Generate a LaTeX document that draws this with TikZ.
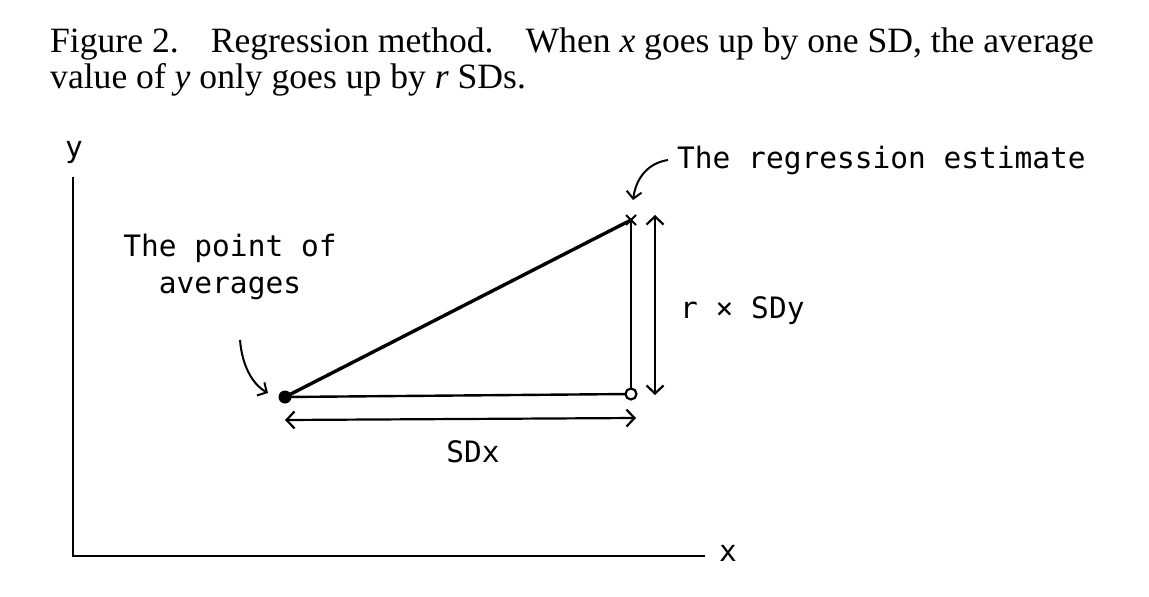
\documentclass[tikz,border=0pt]{standalone}
\usepackage{fontspec}
\setmainfont{Liberation Serif}
\newfontfamily\hand{DejaVu Sans Mono}
\usetikzlibrary{arrows.meta,calc}
\tikzset{
  title/.style={anchor=base west, inner sep=0pt, font=\fontsize{35.6}{36}\selectfont},
  handlbl/.style={inner sep=0pt, font=\hand\fontsize{29.5}{37}\selectfont, align=center},
  heavy/.style={line width=3.4pt, line cap=round},
  thinline/.style={line width=2.4pt},
  dimarrow/.style={line width=2.2pt, {Straight Barb[length=8pt,width=17pt,line width=2.2pt]}-{Straight Barb[length=8pt,width=17pt,line width=2.2pt]}},
  pointer/.style={line width=2pt, -{Straight Barb[length=7pt,width=15pt,line width=2pt]}},
}
\begin{document}
\begin{tikzpicture}[x=1pt,y=-1pt]
\useasboundingbox (0,0) rectangle (1149,597);
% caption
\node[title] (cap1) at (50,52) {Figure 2.\hspace{0.9em}Regression method.\hspace{0.9em}When \textit{x} goes up by one SD, the average};
\node[title] (cap2) at (50,88) {value of \textit{y} only goes up by \textit{r} SDs.};
% axes
\coordinate (origin) at (73,556);
\coordinate (ytop) at (73,177);
\coordinate (xend) at (705,556);
\draw[thinline] (ytop) -- (origin) -- (xend);
\node[handlbl, anchor=center] (ylbl) at (74,152) {y};
\node[handlbl, anchor=center] (xlbl) at (728,553) {x};
% triangle
\coordinate (avg) at (285,397);
\coordinate (est) at (631,220);
\coordinate (corner) at (631,394);
\draw[heavy] (avg) -- (est);
\draw[thinline] (avg) -- (corner);
\draw[thinline] (est) -- (corner);
\fill (avg) circle (6.5pt);
\draw[line width=2.2pt, fill=white] (corner) circle (5.5pt);
\draw[line width=2pt] ($(est)+(-5,-5)$) -- ($(est)+(5,5)$) ($(est)+(-5,5)$) -- ($(est)+(5,-5)$);
% dimension arrows
\coordinate (vtop) at (655,215);
\coordinate (vbot) at (655,395);
\draw[dimarrow] (vtop) -- (vbot);
\coordinate (hl) at (285,420);
\coordinate (hr) at (636,418);
\draw[dimarrow] (hl) -- (hr);
% labels
\node[handlbl, anchor=base west] (reglbl) at (677,168) {The regression estimate};
\node[handlbl, anchor=base] (avglbl) at (230,293) {The point of\\averages};
\node[handlbl, anchor=base west] (rlbl) at (680,318) {r × SDy};
\node[handlbl, anchor=base] (sdxlbl) at (473,462) {SDx};
% pointers
\coordinate (regstart) at (668,160);
\coordinate (regtip) at (633,200);
\draw[pointer] (regstart) .. controls (648,163) and (636,178) .. (regtip);
\coordinate (avgstart) at (240,340);
\coordinate (avgtip) at (268,393);
\draw[pointer] (avgstart) .. controls (242,365) and (252,384) .. (avgtip);
\end{tikzpicture}
\end{document}
